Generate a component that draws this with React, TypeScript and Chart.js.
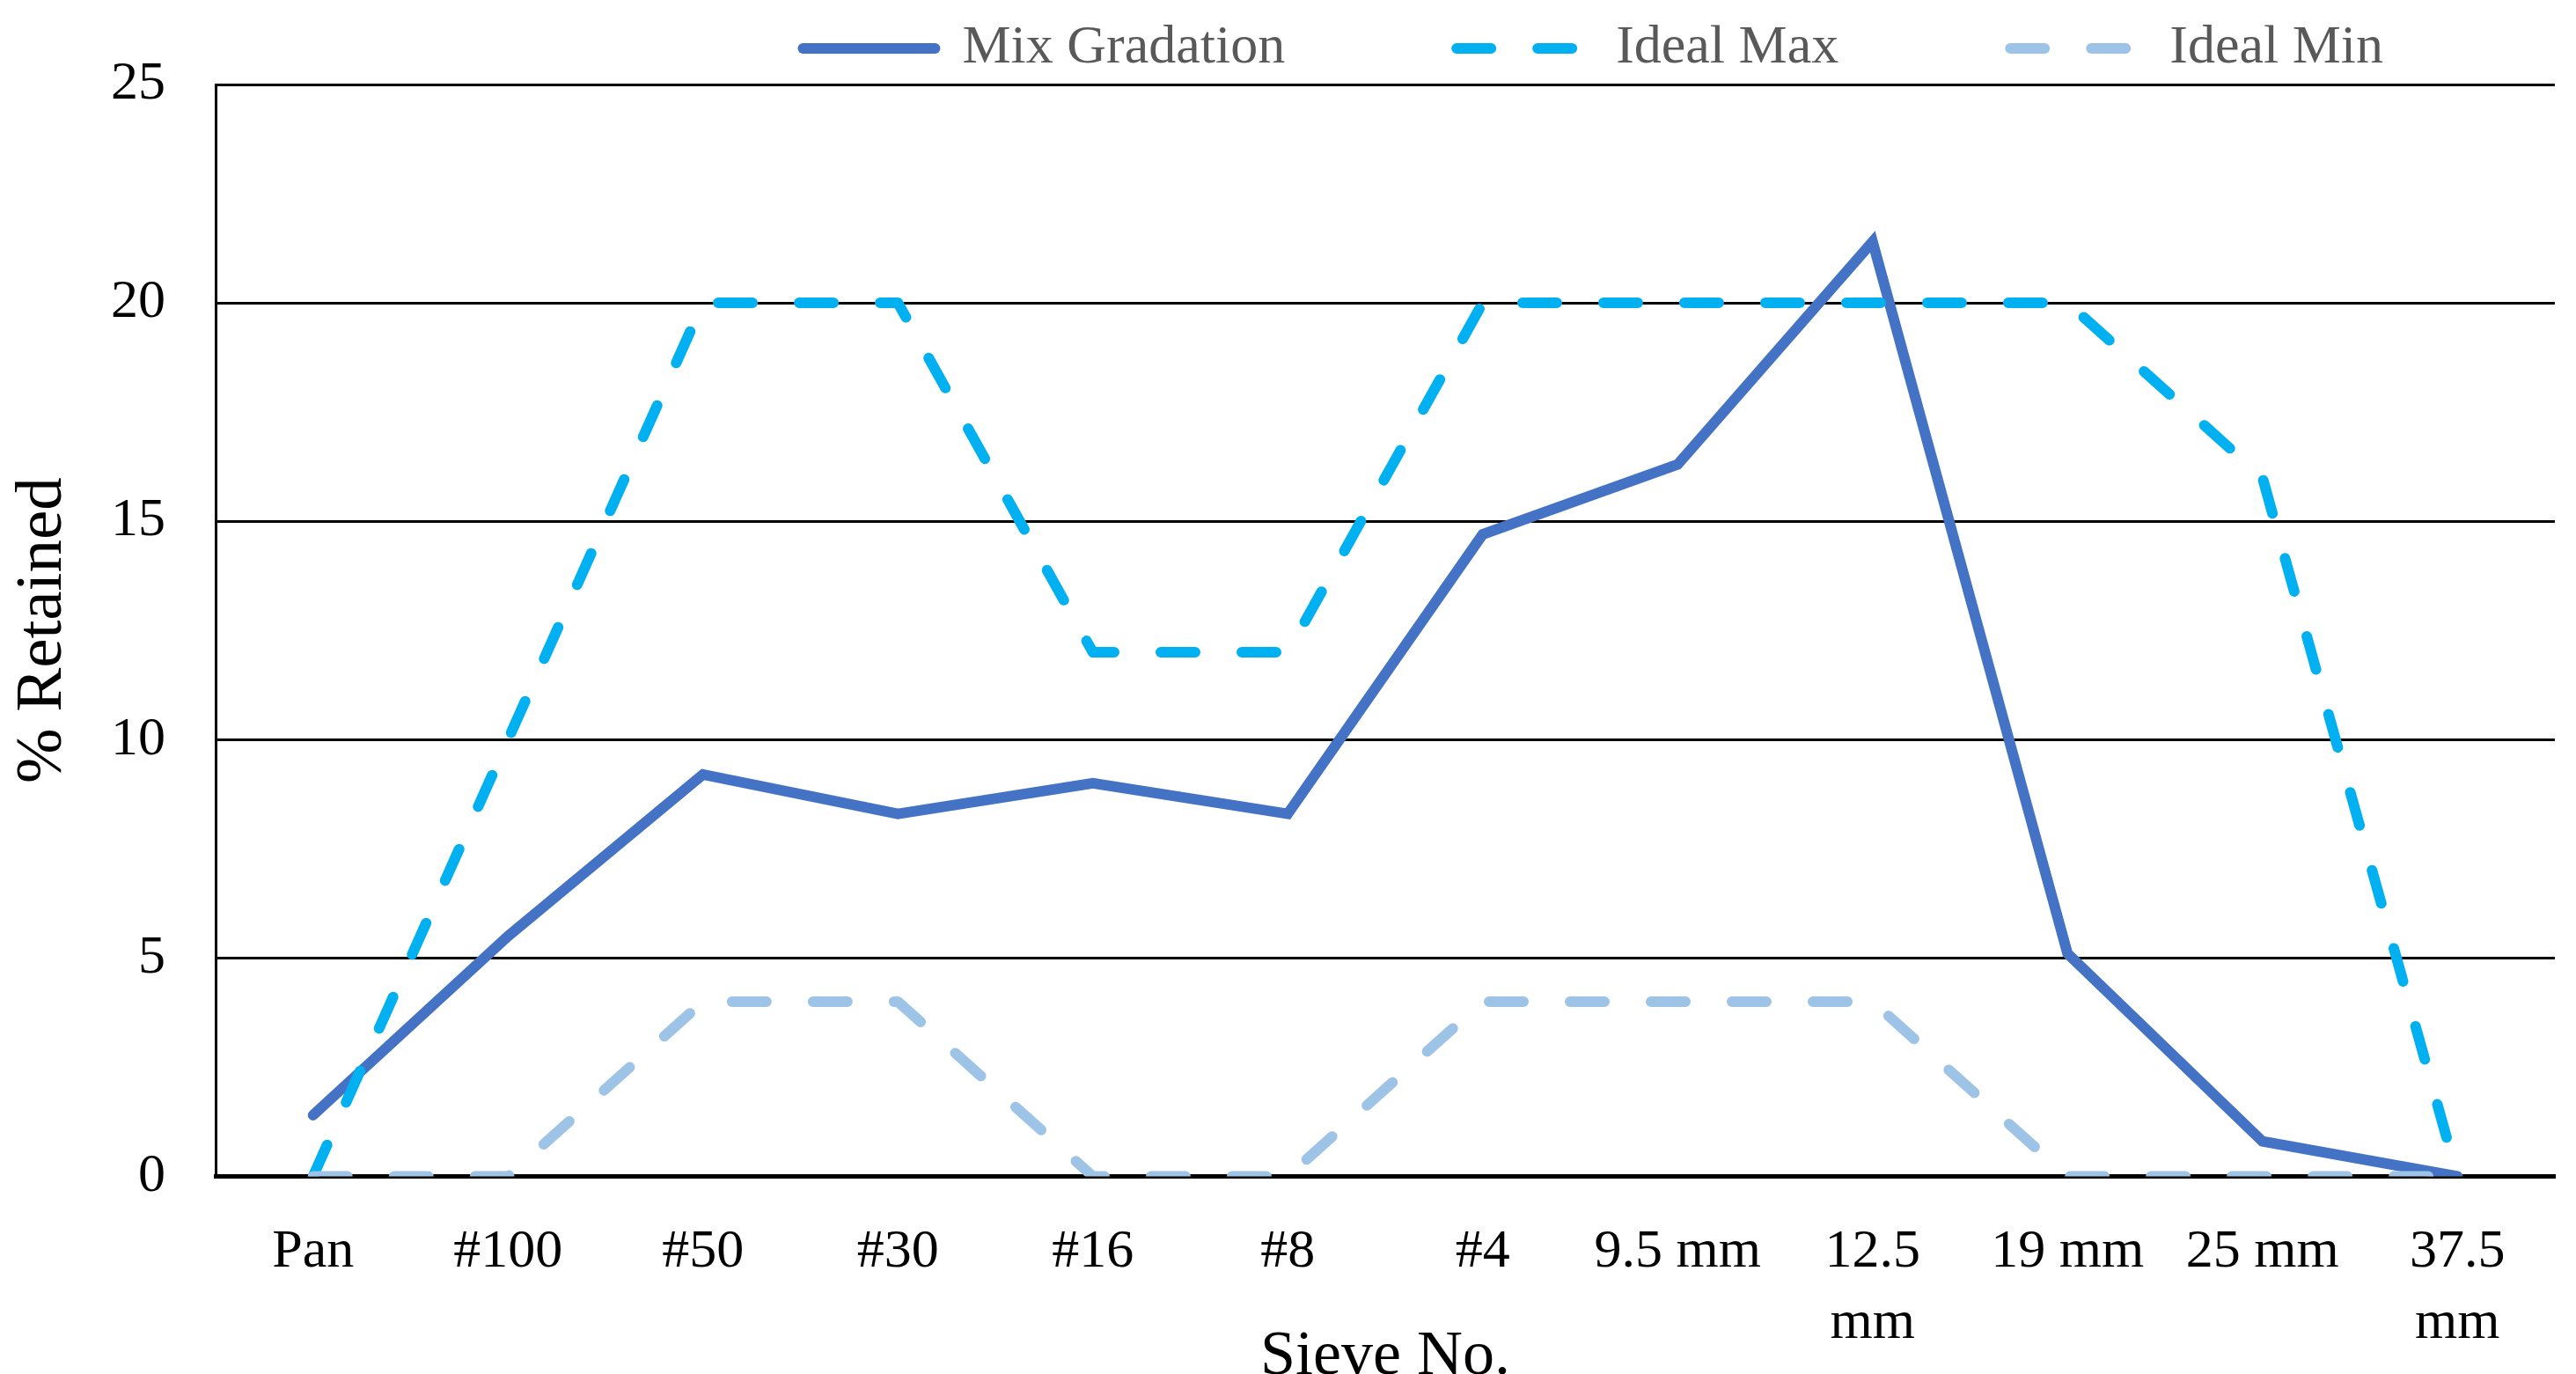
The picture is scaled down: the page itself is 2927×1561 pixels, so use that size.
import React, { useEffect, useRef } from 'react';
import { Chart, registerables } from 'chart.js';

Chart.register(...registerables);

const FONT = 'Liberation Serif';

const categories: (string | string[])[] = [
  'Pan', '#100', '#50', '#30', '#16', '#8', '#4', '9.5 mm', ['12.5', 'mm'], '19 mm', '25 mm', ['37.5', 'mm'],
];
const mixGradation = [1.4, 5.5, 9.2, 8.3, 9.0, 8.3, 14.7, 16.3, 21.4, 5.1, 0.8, 0];
const idealMax = [0, 10, 20, 20, 12, 12, 20, 20, 20, 20, 16, 0];
const idealMin = [0, 0, 4, 4, 0, 0, 4, 4, 4, 0, 0, 0];
const yTicks = [0, 5, 10, 15, 20, 25];

export default function App() {
  const canvasRef = useRef<HTMLCanvasElement | null>(null);

  useEffect(() => {
    document.body.style.margin = '0';
    document.body.style.overflow = 'hidden';
    const canvas = canvasRef.current;
    if (!canvas) return;
    Chart.defaults.font.family = FONT;

    const chart = new Chart(canvas, {
      type: 'line',
      data: {
        labels: categories as any,
        datasets: [
          {
            label: 'Mix Gradation',
            data: mixGradation,
            borderColor: '#4472C4',
            backgroundColor: '#4472C4',
            borderWidth: 12,
            borderCapStyle: 'round',
            borderJoinStyle: 'miter',
            pointRadius: 0,
            tension: 0,
            fill: false,
            order: 3,
          },
          {
            label: 'Ideal Max',
            data: idealMax,
            borderColor: '#00B0F0',
            backgroundColor: '#00B0F0',
            borderWidth: 12,
            borderDash: [39, 53],
            borderCapStyle: 'round',
            borderJoinStyle: 'round',
            pointRadius: 0,
            tension: 0,
            fill: false,
            order: 2,
          },
          {
            label: 'Ideal Min',
            data: idealMin,
            borderColor: '#9DC3E6',
            backgroundColor: '#9DC3E6',
            borderWidth: 12,
            borderDash: [39, 53],
            borderCapStyle: 'round',
            borderJoinStyle: 'round',
            pointRadius: 0,
            tension: 0,
            fill: false,
            order: 1,
          },
        ],
      },
      options: {
        animation: false,
        responsive: true,
        maintainAspectRatio: false,
        layout: { padding: { top: -171, right: 24, bottom: 0, left: 0 } },
        plugins: {
          tooltip: { enabled: false },
          legend: {
            position: 'top',
            align: 'end',
            fullSize: false,
            labels: {
              font: { family: FONT, size: 62 },
              color: '#595959',
              usePointStyle: true,
              pointStyle: 'line',
              pointStyleWidth: 150,
              padding: 195,
              generateLabels: (c: any) =>
                c.data.datasets.map((ds: any, i: number) => ({
                  text: ds.label,
                  fillStyle: ds.borderColor,
                  strokeStyle: ds.borderColor,
                  lineWidth: ds.borderWidth,
                  lineDash: ds.borderDash || [],
                  lineCap: 'round',
                  lineJoin: 'round',
                  pointStyle: 'line',
                  hidden: false,
                  datasetIndex: i,
                  fontColor: '#595959',
                })),
            },
          },
        },
        scales: {
          x: {
            type: 'category',
            offset: true,
            grid: { display: false, drawTicks: false },
            border: { display: true, color: '#000000', width: 5 },
            ticks: {
              color: '#000000',
              font: { family: FONT, size: 62, lineHeight: 1.3 },
              padding: 46,
              autoSkip: false,
              maxRotation: 0,
              minRotation: 0,
            },
            title: {
              display: true,
              text: 'Sieve No.',
              color: '#000000',
              font: { family: FONT, size: 72, lineHeight: 1.2 },
              padding: { top: -91, bottom: -24 },
            },
          },
          y: {
            type: 'linear',
            min: 0,
            max: 25,
            afterBuildTicks: (scale: any) => {
              scale.ticks = yTicks.map((v) => ({ value: v }));
            },
            ticks: {
              stepSize: 5,
              color: '#000000',
              font: { family: FONT, size: 62 },
              padding: 57,
            },
            grid: {
              color: '#000000',
              lineWidth: (ctx: any) => (ctx.tick && ctx.tick.value === 0 ? 5 : 3),
              drawTicks: false,
            },
            border: { display: true, color: '#000000', width: 3 },
            title: {
              display: true,
              text: '% Retained',
              color: '#000000',
              font: { family: FONT, size: 75, lineHeight: 1.2 },
              padding: { top: 4, bottom: -25 },
            },
          },
        },
      } as any,
    });

    return () => {
      chart.destroy();
    };
  }, []);

  return (
    <div style={{ position: 'relative', width: '2927px', height: '1561px' }}>
      <canvas ref={canvasRef} />
    </div>
  );
}
